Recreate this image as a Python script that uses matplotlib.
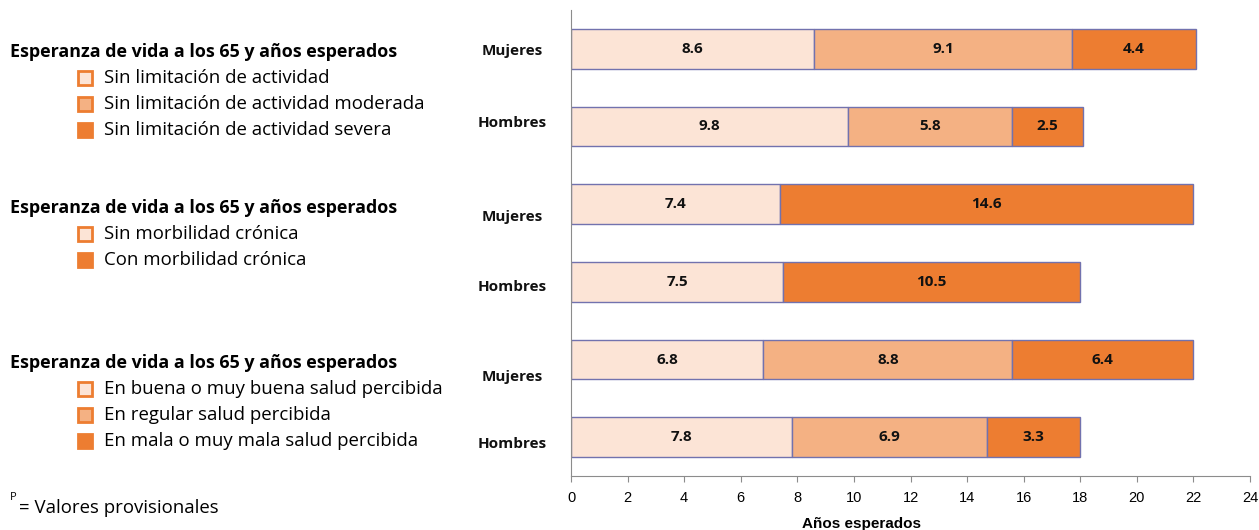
import matplotlib
matplotlib.use("Agg")
import matplotlib.pyplot as plt
from matplotlib.patches import Rectangle
import matplotlib.transforms as mtransforms

# ---- data ----
group_titles = ["Esperanza de vida a los 65 y años esperados"] * 3
group_series = [
    ["Sin limitación de actividad", "Sin limitación de actividad moderada", "Sin limitación de actividad severa"],
    ["Sin morbilidad crónica", "Con morbilidad crónica"],
    ["En buena o muy buena salud percibida", "En regular salud percibida", "En mala o muy mala salud percibida"],
]
bar_labels = ["Mujeres", "Hombres", "Mujeres", "Hombres", "Mujeres", "Hombres"]
# segments per bar (top to bottom)
seg_values = [
    [8.6, 9.1, 4.4],
    [9.8, 5.8, 2.5],
    [7.4, 14.6],
    [7.5, 10.5],
    [6.8, 8.8, 6.4],
    [7.8, 6.9, 3.3],
]
x_ticks = [0, 2, 4, 6, 8, 10, 12, 14, 16, 18, 20, 22, 24]
x_label = "Años esperados"
footnote = "= Valores provisionales"

# ---- style ----
c_light = "#FCE4D6"
c_mid = "#F4B183"
c_dark = "#ED7D31"
edge = "#7272AE"
colors3 = [c_light, c_mid, c_dark]
colors2 = [c_light, c_dark]

plt.rcParams['font.family'] = ['Open Sans', 'DejaVu Sans']

fig = plt.figure(figsize=(12.59, 5.30), dpi=100)
ax = fig.add_axes([571/1259, 1-476/530, (1250-571)/1259, (476-10)/530])

n = len(seg_values)
ypos = list(range(n))
bar_h = 0.515
for i, vals in enumerate(seg_values):
    cols = colors3 if len(vals) == 3 else colors2
    left = 0.0
    for v, c in zip(vals, cols):
        ax.barh(ypos[i], v, left=left, height=bar_h, color=c, edgecolor=edge, linewidth=1.0)
        ax.text(left + v/2, ypos[i], f"{v:.1f}", ha="center", va="center",
                fontsize=11, fontweight="bold", color="#111111")
        left += v

ax.set_xlim(0, 24)
ax.set_ylim(5.5, -0.5)
ax.set_xticks(x_ticks)
ax.set_xticklabels([str(t) for t in x_ticks], fontsize=10.5,
                   family=['Liberation Sans Narrow', 'Liberation Sans', 'DejaVu Sans'])
ax.set_yticks([])
for s in ["top", "right"]:
    ax.spines[s].set_visible(False)
for s in ["left", "bottom"]:
    ax.spines[s].set_color("#8c8c8c")
ax.tick_params(axis="x", direction="out", length=4, color="#8c8c8c", pad=7)
ax.set_xlabel(x_label, fontsize=11, fontweight="bold", family=['Liberation Sans', 'DejaVu Sans'])
ax.xaxis.set_label_coords((861-571)/679, -0.088)

label_offsets = [0.03, -0.05, 0.17, 0.065, 0.22, 0.09]
trans = mtransforms.blended_transform_factory(fig.transFigure, ax.transData)
for i, lab in enumerate(bar_labels):
    ax.text(512/1259, ypos[i] + label_offsets[i], lab, transform=trans, ha="center", va="center",
            fontsize=11, fontweight="bold", color="#111111")

# ---- left legend blocks ----
title_y = [52, 208, 363]
row_step = 26
for g, (title, series) in enumerate(zip(group_titles, group_series)):
    ty = title_y[g]
    fig.text(10/1259, 1-ty/530, title, fontsize=12.9, fontweight="bold", va="center", ha="left")
    cols = colors3 if len(series) == 3 else colors2
    for k, (s, c) in enumerate(zip(series, cols)):
        ry = ty + row_step*(k+1)
        fig.patches.append(Rectangle((78/1259, 1-(ry+7)/530), 14/1259, 14/530,
                                     transform=fig.transFigure, facecolor=c, edgecolor=c_dark, linewidth=2))
        fig.text(104/1259, 1-ry/530, s, fontsize=13.4, va="center", ha="left")

fig.text(10/1259, 1-497/530, "P", fontsize=8, va="center", ha="left")
fig.text(19/1259, 1-508/530, footnote, fontsize=13.4, va="center", ha="left")

fig.savefig("out.png", dpi=100)
